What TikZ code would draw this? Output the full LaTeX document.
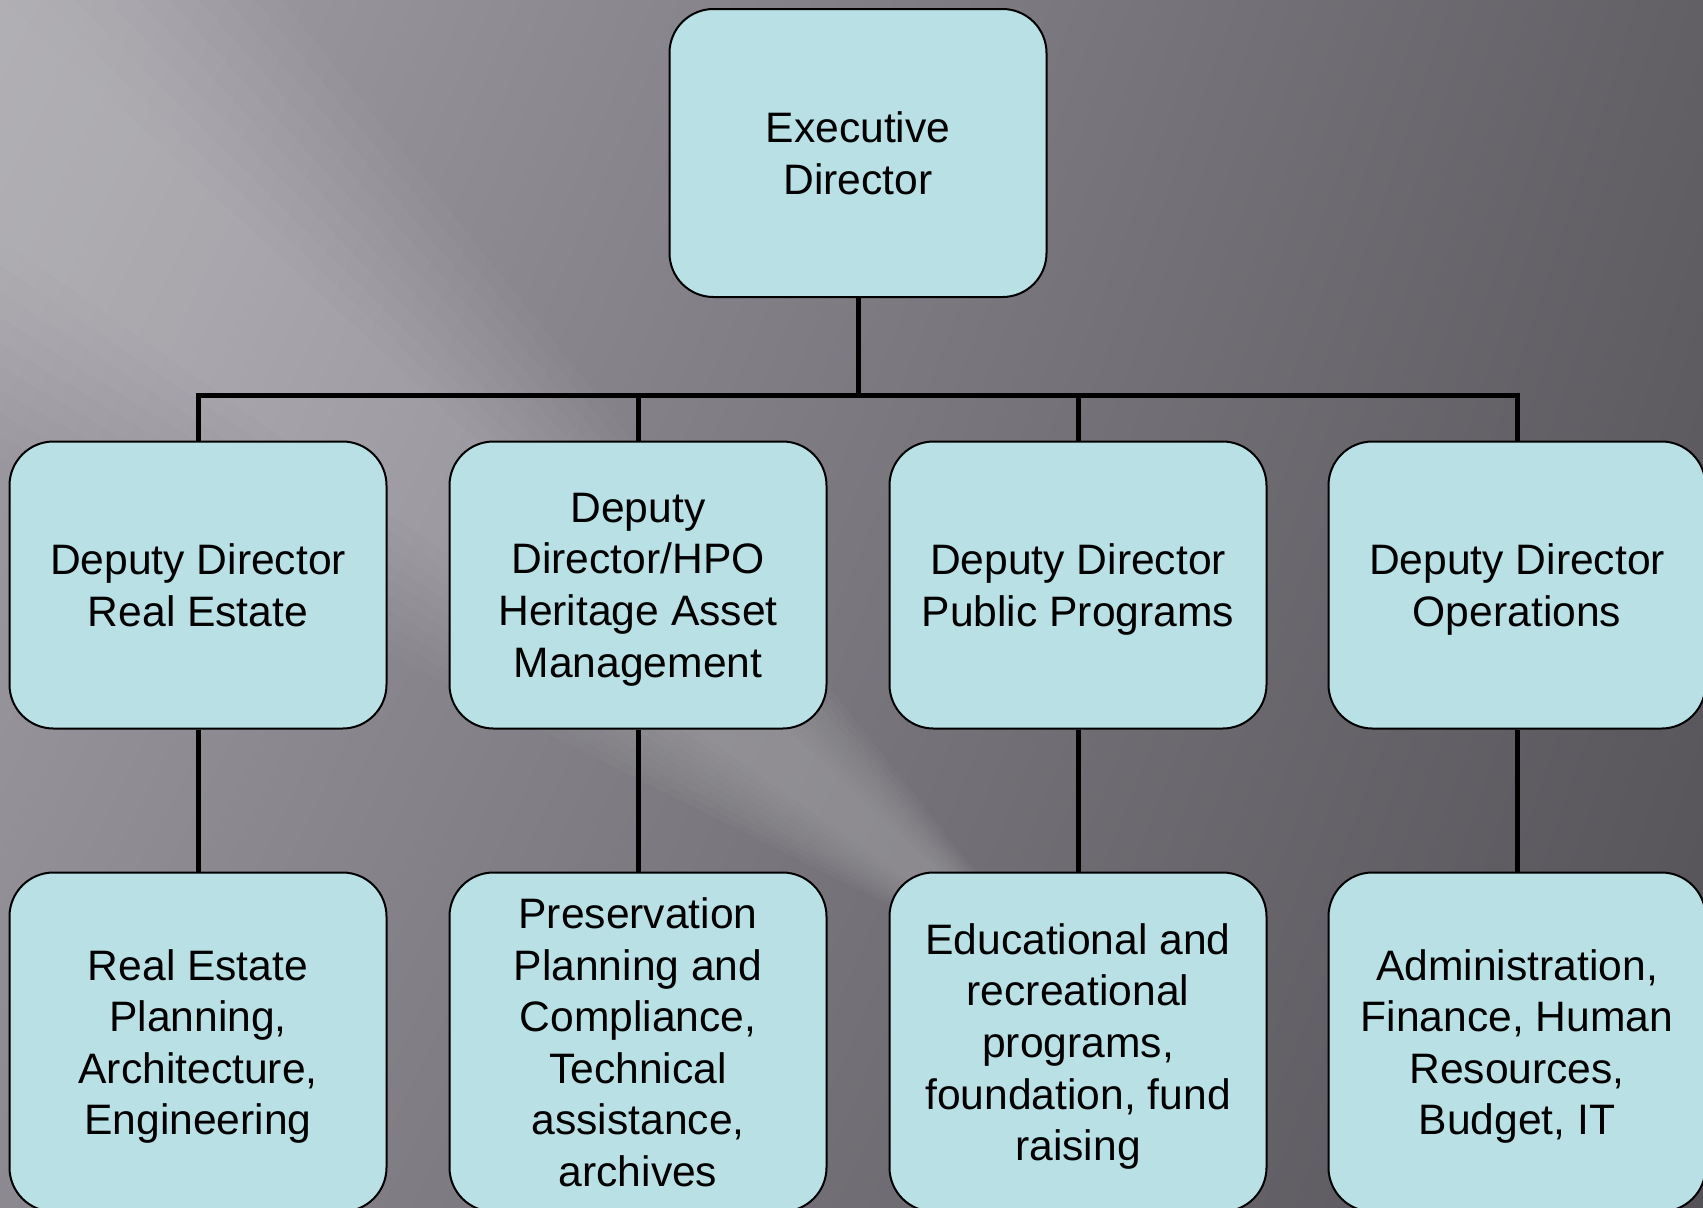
\documentclass[tikz,border=0pt]{standalone}
\usepackage{fontspec}
\setmainfont{Liberation Sans}
\usetikzlibrary{shadings}
\definecolor{boxfill}{RGB}{185,224,228}
\definecolor{bgUL}{RGB}{162,159,167}
\definecolor{bgUR}{RGB}{98,96,101}
\definecolor{bgLL}{RGB}{140,137,144}
\definecolor{bgLR}{RGB}{84,82,87}
\tikzset{
  orgbox/.style={draw=black, line width=1pt, fill=boxfill, rounded corners=22pt,
    minimum width=188.5pt, inner sep=0pt, align=center, text depth=0pt,
    font=\fontsize{21.3}{25.8}\selectfont, text=black},
  rowA/.style={orgbox, minimum height=143.5pt},
  rowB/.style={orgbox, minimum height=169.5pt},
  conn/.style={line width=2.5pt, draw=black},
  glow/.style={fill=white, fill opacity=0.022, draw=none}
}
\begin{document}
\begin{tikzpicture}[x=0.5pt,y=-0.5pt]
\useasboundingbox (0,0) rectangle (1703,1207);
\begin{scope}
  \clip (0,0) rectangle (1703,1207);
  \shade[upper left=bgUL, upper right=bgUR, lower left=bgLL, lower right=bgLR] (0,0) rectangle (1703,1207);
  \foreach \w in {120,150,...,390}{
    \fill[glow] ({-300+0.625*\w},{-120-0.781*\w}) -- (1078,1000)
      -- ({-300-0.625*\w},{-120+0.781*\w}) -- cycle;
  }
\end{scope}

\node[orgbox, minimum height=144pt] (exec) at (858,153) {Executive\\Director};

\node[rowA] (d1) at (198,585) {Deputy Director\\Real Estate};
\node[rowA] (d2) at (638,585) {Deputy\\Director/HPO\\Heritage Asset\\Management};
\node[rowA] (d3) at (1078,585) {Deputy Director\\Public Programs};
\node[rowA] (d4) at (1517,585) {Deputy Director\\Operations};

\node[rowB] (s1) at (198,1042) {Real Estate\\Planning,\\Architecture,\\Engineering};
\node[rowB] (s2) at (638,1042) {Preservation\\Planning and\\Compliance,\\Technical\\assistance,\\archives};
\node[rowB] (s3) at (1078,1042) {Educational and\\recreational\\programs,\\foundation, fund\\raising};
\node[rowB] (s4) at (1517,1042) {Administration,\\Finance, Human\\Resources,\\Budget, IT};

\coordinate (bar) at (858,395);
\draw[conn] (exec.south) -- (bar);
\draw[conn] (d1.north) -- (d1.north |- bar) -- (d4.north |- bar) -- (d4.north);
\draw[conn] (d2.north) -- (d2.north |- bar);
\draw[conn] (d3.north) -- (d3.north |- bar);
\foreach \i in {1,...,4}{
  \draw[conn] (d\i.south) -- (s\i.north);
}
\end{tikzpicture}
\end{document}
